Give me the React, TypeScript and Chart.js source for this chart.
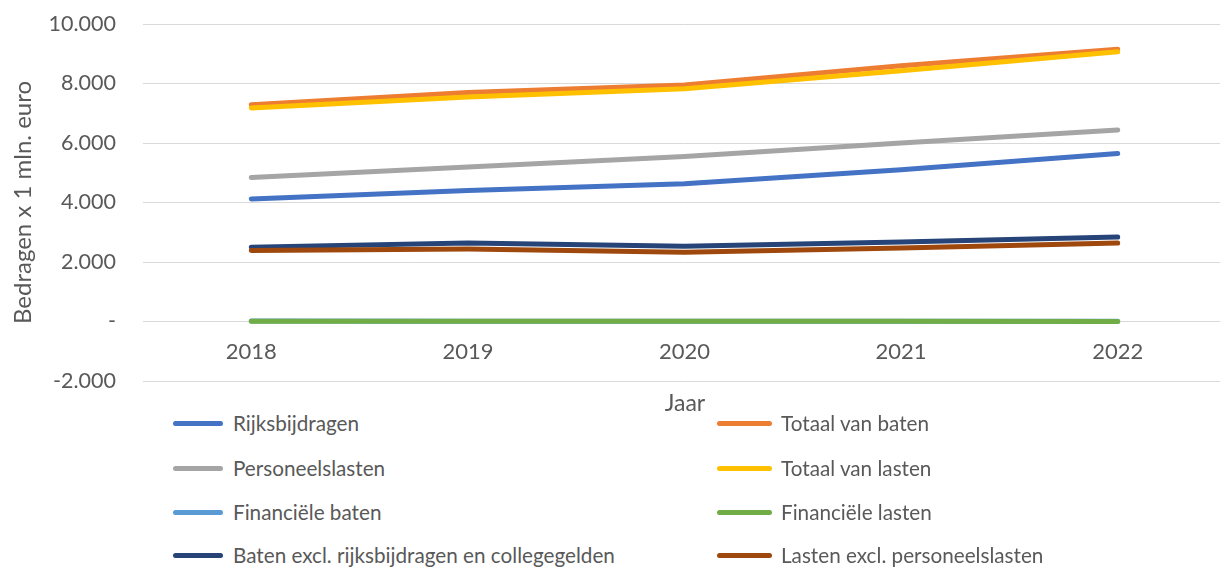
import React, { useEffect, useRef } from "react";
import { Chart, registerables } from "chart.js";

Chart.register(...registerables);

const years = ["2018", "2019", "2020", "2021", "2022"];
const rijksbijdragen = [4120, 4400, 4630, 5100, 5650];
const totaalBaten = [7290, 7700, 7950, 8600, 9150];
const personeelslasten = [4840, 5190, 5550, 6000, 6440];
const totaalLasten = [7180, 7550, 7820, 8430, 9070];
const financieleBaten = [15, 12, 10, 8, 10];
const financieleLasten = [10, 8, 6, 5, 4];
const batenExcl = [2500, 2640, 2530, 2670, 2840];
const lastenExcl = [2390, 2440, 2330, 2470, 2640];

const seriesNames = [
  "Rijksbijdragen",
  "Totaal van baten",
  "Personeelslasten",
  "Totaal van lasten",
  "Financiële baten",
  "Financiële lasten",
  "Baten excl. rijksbijdragen en collegegelden",
  "Lasten excl. personeelslasten",
];
const seriesValues = [
  rijksbijdragen,
  totaalBaten,
  personeelslasten,
  totaalLasten,
  financieleBaten,
  financieleLasten,
  batenExcl,
  lastenExcl,
];
const seriesColors = [
  "#4472C4",
  "#ED7D31",
  "#A5A5A5",
  "#FFC000",
  "#5B9BD5",
  "#70AD47",
  "#264478",
  "#9E480E",
];
const yTicks = [-2000, 0, 2000, 4000, 6000, 8000, 10000];

const FONT = "Lato, 'Open Sans', sans-serif";
const TEXT = "#595959";

function fmt(v: number): string {
  if (v === 0) return "-";
  const s = Math.abs(v).toString().replace(/\B(?=(\d{3})+(?!\d))/g, ".");
  return (v < 0 ? "-" : "") + s;
}

// Draws the category labels just below the zero line, as Excel does.
const zeroAxisLabels = {
  id: "zeroAxisLabels",
  afterDraw(chart: any) {
    const x = chart.scales.x;
    const y = chart.scales.y;
    const ctx = chart.ctx;
    const y0 = y.getPixelForValue(0);
    ctx.save();
    ctx.fillStyle = TEXT;
    ctx.font = `22px ${FONT}`;
    ctx.textAlign = "center";
    ctx.textBaseline = "middle";
    (chart.data.labels as string[]).forEach((lab, i) => {
      ctx.fillText(lab, x.getPixelForValue(i), y0 + 30);
    });
    ctx.restore();
  },
};

export default function App() {
  const ref = useRef<HTMLCanvasElement | null>(null);
  useEffect(() => {
    if (!ref.current) return;
    const n = seriesNames.length;
    const chart = new Chart(ref.current, {
      type: "line",
      data: {
        labels: years,
        datasets: seriesNames.map((name, i) => ({
          label: name,
          data: seriesValues[i],
          borderColor: seriesColors[i],
          backgroundColor: seriesColors[i],
          borderWidth: 5,
          borderCapStyle: "round" as const,
          borderJoinStyle: "round" as const,
          pointRadius: 0,
          pointHoverRadius: 0,
          tension: 0,
          fill: false,
          order: n - i,
        })),
      },
      plugins: [zeroAxisLabels],
      options: {
        animation: false,
        responsive: false,
        maintainAspectRatio: false,
        layout: { padding: { top: 24, bottom: 19, right: 4, left: 0 } },
        plugins: { legend: { display: false }, tooltip: { enabled: false } },
        scales: {
          x: {
            type: "category",
            offset: true,
            display: false,
          },
          y: {
            min: -2000,
            max: 10000,
            afterBuildTicks: (scale: any) => {
              scale.ticks = yTicks.map((v) => ({ value: v }));
            },
            afterFit: (scale: any) => {
              scale.width = 143;
              scale.paddingTop = 0;
              scale.paddingBottom = 0;
            },
            grid: { color: "#D9D9D9", lineWidth: 1, drawTicks: false },
            border: { display: false },
            ticks: {
              color: TEXT,
              font: { family: FONT, size: 21.5 },
              padding: 27,
              callback: (v: any) => fmt(Number(v)),
            },
            title: {
              display: true,
              text: "Bedragen x 1 mln. euro",
              color: TEXT,
              font: { family: FONT, size: 24 },
              padding: { top: 9, bottom: 0 },
            },
          },
        },
      },
    });
    return () => chart.destroy();
  }, []);

  const rows = [
    [0, 1],
    [2, 3],
    [4, 5],
    [6, 7],
  ];
  const rowY = [423, 468, 512, 555];

  return (
    <div
      style={{
        position: "absolute",
        left: 0,
        top: 0,
        width: 1220,
        height: 567,
        overflow: "hidden",
        background: "#fff",
        fontFamily: FONT,
        color: TEXT,
      }}
    >
      <canvas ref={ref} width={1230} height={400} style={{ display: "block", width: 1230, height: 400 }} />
      <div
        style={{
          position: "absolute",
          left: 685,
          top: 402,
          transform: "translate(-50%, -50%)",
          fontSize: 23,
          whiteSpace: "nowrap",
        }}
      >
        Jaar
      </div>
      {rows.map((r, ri) =>
        r.map((si, ci) => {
          const lineX = ci === 0 ? 173 : 717;
          const lineW = ci === 0 ? 50 : 55;
          const textX = ci === 0 ? 233 : 781;
          return (
            <React.Fragment key={si}>
              <div
                style={{
                  position: "absolute",
                  left: lineX,
                  top: rowY[ri] - 2.5,
                  width: lineW,
                  height: 5,
                  borderRadius: 3,
                  background: seriesColors[si],
                }}
              />
              <div
                style={{
                  position: "absolute",
                  left: textX,
                  top: rowY[ri],
                  transform: "translateY(-50%)",
                  fontSize: 20.7,
                  whiteSpace: "nowrap",
                  lineHeight: 1,
                }}
              >
                {seriesNames[si]}
              </div>
            </React.Fragment>
          );
        })
      )}
    </div>
  );
}
